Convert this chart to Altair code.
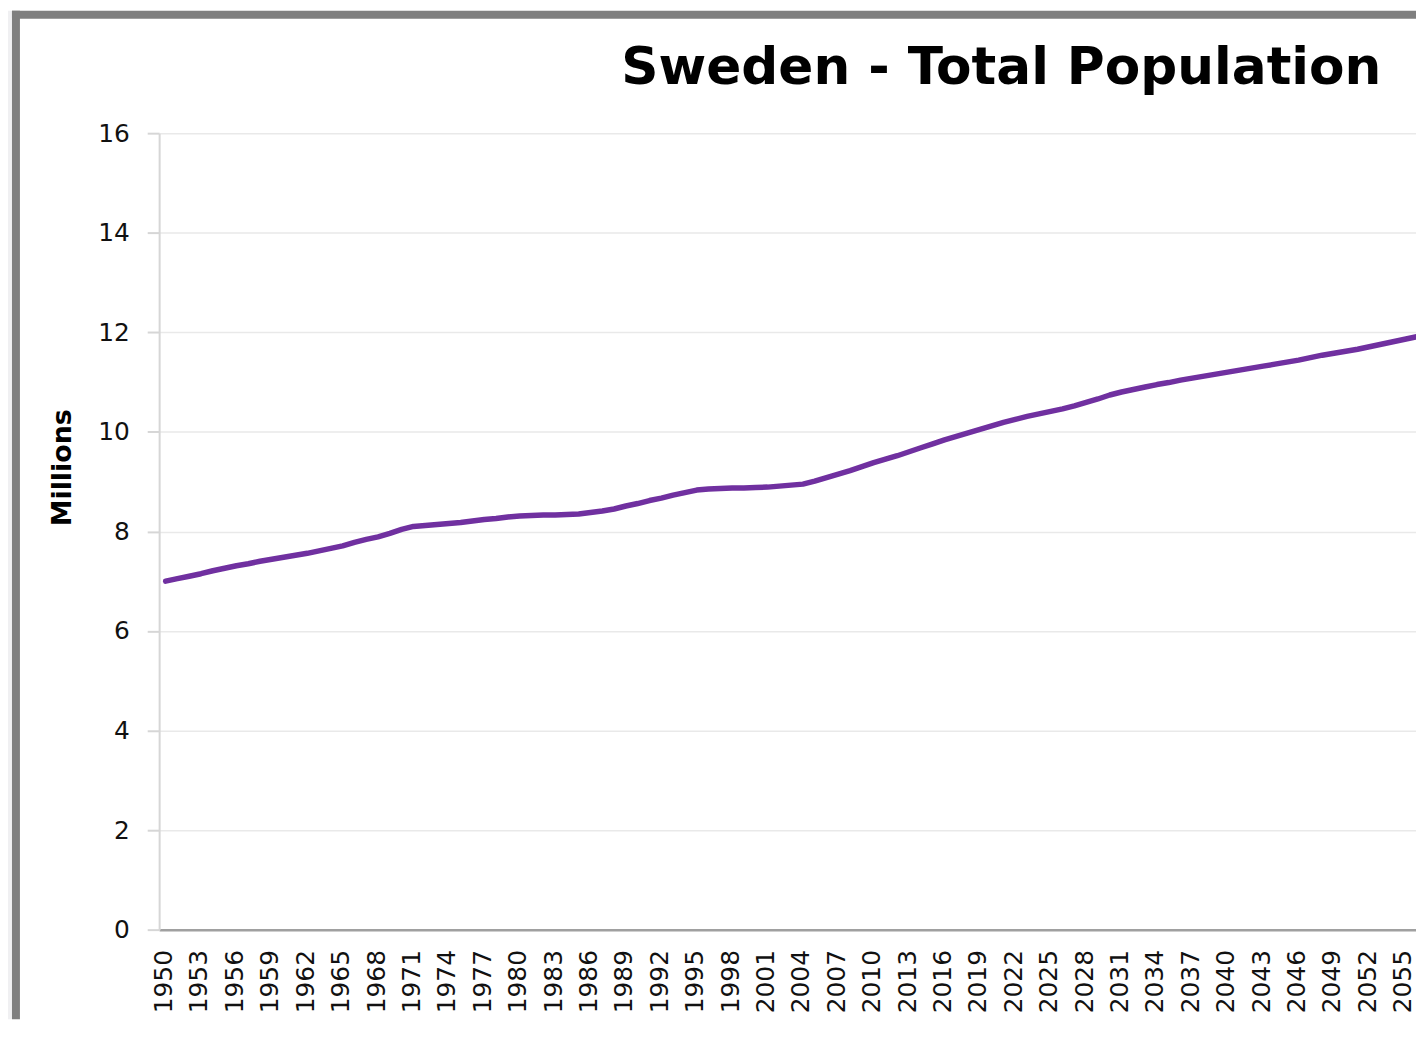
import altair as alt
import pandas as pd

# ---- data ----
years = list(range(1950, 2057))
population = [
    7.00, 7.05, 7.10, 7.15, 7.21, 7.26, 7.31, 7.35, 7.40, 7.44,
    7.48, 7.52, 7.56, 7.61, 7.66, 7.71, 7.78, 7.84, 7.89, 7.96,
    8.04, 8.10, 8.12, 8.14, 8.16, 8.18, 8.21, 8.24, 8.26, 8.29,
    8.31, 8.32, 8.33, 8.33, 8.34, 8.35, 8.38, 8.41, 8.45, 8.51,
    8.56, 8.62, 8.67, 8.73, 8.78, 8.83, 8.85, 8.86, 8.87, 8.87,
    8.88, 8.89, 8.91, 8.93, 8.95, 9.01, 9.08, 9.15, 9.22, 9.30,
    9.38, 9.45, 9.52, 9.60, 9.68, 9.76, 9.84, 9.91, 9.98, 10.05,
    10.12, 10.19, 10.25, 10.31, 10.36, 10.41, 10.46, 10.52, 10.59, 10.66,
    10.74, 10.80, 10.85, 10.90, 10.95, 10.99, 11.04, 11.08, 11.12, 11.16,
    11.20, 11.24, 11.28, 11.32, 11.36, 11.40, 11.44, 11.49, 11.54, 11.58,
    11.62, 11.66, 11.71, 11.76, 11.81, 11.86, 11.91,
]
x_tick_years = list(range(1950, 2056, 3))
y_ticks = [0, 2, 4, 6, 8, 10, 12, 14, 16]

df = pd.DataFrame({"year": years, "population": population})
frame_df = pd.DataFrame({"part": ["frame"]})

W, H = 1264, 801
FONT = "DejaVu Sans"

# ---- decorative frame strips (outside the plot area) ----
outer = alt.Chart(frame_df).mark_rect(color="#f0f0f2").encode(
    x=alt.value(-152), x2=alt.value(-148), y=alt.value(-123), y2=alt.value(891)
)
left_border = alt.Chart(frame_df).mark_rect(color="#7f7f7f").encode(
    x=alt.value(-148), x2=alt.value(-140), y=alt.value(-123), y2=alt.value(891)
)
top_border = alt.Chart(frame_df).mark_rect(color="#7f7f7f").encode(
    x=alt.value(-148), x2=alt.value(W), y=alt.value(-123), y2=alt.value(-115)
)

line = alt.Chart(df).mark_line(
    color="#7030a0", strokeWidth=5.5, clip=True, strokeCap="round", strokeJoin="round"
).encode(
    x=alt.X(
        "year:Q",
        scale=alt.Scale(domain=[1949.45, 2055.95], nice=False, zero=False),
        axis=alt.Axis(
            values=x_tick_years, title="", format="d",
            labelAngle=270, labelAlign="right", labelBaseline="middle",
            labelFont=FONT, labelFontSize=25, labelColor="#111111", labelPadding=20,
            labelOffset=-2,
            ticks=False, grid=False, domainColor="#a0a0a0", domainWidth=2.5,
            labelOverlap=False, labelFlush=False, labelBound=False,
        ),
    ),
    y=alt.Y(
        "population:Q",
        scale=alt.Scale(domain=[0, 16], nice=False),
        axis=alt.Axis(
            values=y_ticks, format="d", title="Millions",
            titleFont=FONT, titleFontSize=27, titleFontWeight="bold", titleColor="#000000",
            titleAngle=270, titleAlign="center", titleBaseline="alphabetic",
            titleX=-89, titleY=336,
            labelFont=FONT, labelFontSize=25, labelColor="#111111", labelPadding=18,
            tickSize=12, tickColor="#d6d6d6", tickWidth=2,
            domainColor="#d6d6d6", domainWidth=2,
            gridColor="#e9e9e9", gridWidth=1.5,
        ),
    ),
)

chart = alt.layer(outer, left_border, top_border, line).properties(
    width=W,
    height=H,
    title=alt.TitleParams(
        "Sweden - Total Population",
        font=FONT, fontSize=52, fontWeight="bold", color="#000000",
        anchor="middle", frame="group", dx=215, offset=-126, baseline="alphabetic",
    ),
    autosize=alt.AutoSizeParams(type="none"),
    padding={"left": 152, "top": 123, "right": 0, "bottom": 90},
    background="white",
).configure_view(strokeWidth=0)

chart.save("out.html", embed_options={"renderer": "svg", "actions": False})
